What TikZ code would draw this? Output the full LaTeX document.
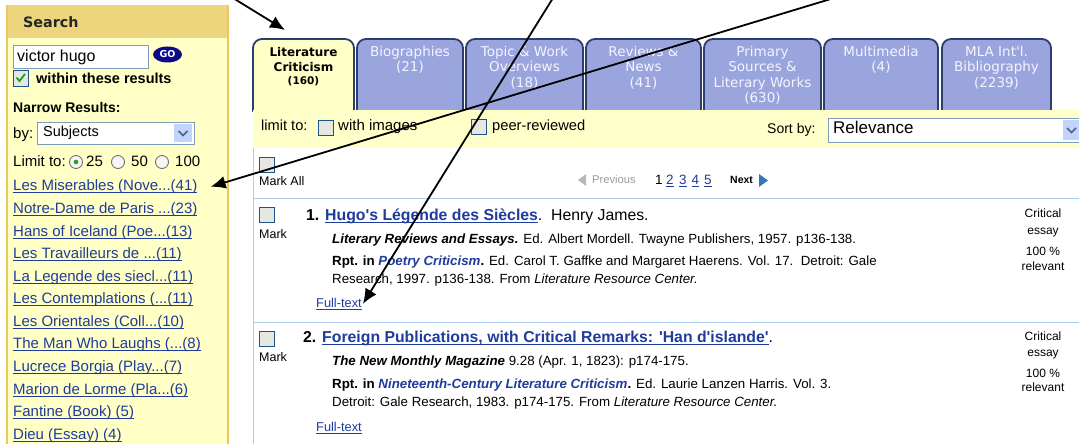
\documentclass[tikz,border=0pt]{standalone}
\usepackage{fontspec}
\setmainfont{Liberation Sans}[Ligatures=TeXOff]
\newfontfamily\vfont{DejaVu Sans}[Ligatures=TeXOff]
\usetikzlibrary{arrows.meta}
\definecolor{sbbody}{HTML}{FFFFC6}
\definecolor{sbhead}{HTML}{ECD57C}
\definecolor{sbedge}{HTML}{E9C95E}
\definecolor{tabfill}{HTML}{9AA5DD}
\definecolor{tabedge}{HTML}{2C3E6E}
\definecolor{tabtext}{HTML}{F4F4FF}
\definecolor{actfill}{HTML}{FFFFC8}
\definecolor{barfill}{HTML}{FFFFCA}
\definecolor{linkc}{HTML}{1E3C9C}
\definecolor{rulec}{HTML}{A9CEF2}
\definecolor{cbedge}{HTML}{1F5584}
\definecolor{cbfill}{HTML}{E6E6E2}
\definecolor{ddedge}{HTML}{7F9DB9}
\definecolor{ddbtn}{HTML}{C3D4FC}
\definecolor{ddarrow}{HTML}{4D6185}
\definecolor{gonavy}{HTML}{0B0B8A}
\definecolor{checkgreen}{HTML}{21A121}
\definecolor{greyc}{HTML}{9A9A9A}
\definecolor{navtri}{HTML}{3A76B5}
\newcommand\sq{'}
\newcommand\mycbox[2]{\draw[cbedge, fill=cbfill, line width=1pt] (#1,#2) rectangle ++(15,15);}
\newcommand\myradio[2]{\draw[gray!80!black, fill=gray!8, line width=0.8pt] (#1,#2) circle[radius=6.5pt];}
\newcommand\mytab[3]{\draw[tabedge, line width=1.8pt, fill=#3, rounded corners=9pt] (#1,112) -- (#1,39) -- (#2,39) -- (#2,112);}
\newcommand\lnk[1]{\textcolor{linkc}{\setbox0\hbox{#1}\rlap{\rule[-1.8pt]{\wd0}{0.9pt}}\box0}}
\begin{document}
\begin{tikzpicture}[x=1pt,y=-1pt,
  txt/.style={anchor=mid west, inner sep=0pt, font=\fontsize{15}{17}\selectfont},
  small/.style={anchor=mid west, inner sep=0pt, font=\fontsize{12.5}{14}\selectfont},
  body/.style={anchor=mid west, inner sep=0pt, font=\fontsize{13.3}{15}\selectfont},
  ttl/.style={anchor=mid west, inner sep=0pt, font=\fontsize{15.8}{18}\selectfont},
  rcol/.style={anchor=mid, inner sep=0pt, font=\fontsize{12}{14}\selectfont},
  tabt/.style={anchor=mid, inner sep=0pt, text=tabtext, font=\vfont\fontsize{13.5}{15}\selectfont},
  arr/.style={-{Latex[length=15pt,width=13pt]}, line width=1.8pt, black}]
\useasboundingbox (0,0) rectangle (1079,444);
\clip (0,0) rectangle (1079,444);
\fill[white] (0,0) rectangle (1079,444);

% ---------------- sidebar ----------------
\fill[sbbody] (7,38) rectangle (228,444);
\fill[sbhead] (7,5) rectangle (228,38);
\draw[sbedge, line width=1.2pt] (7,5) -- (7,444);
\draw[sbedge, line width=2pt] (228,5) -- (228,444);
\node[anchor=mid west, inner sep=0pt, font=\vfont\bfseries\fontsize{14.3}{16}\selectfont, text=black!85] (shead) at (23,25) {Search};

\draw[ddedge, fill=white, line width=1pt] (13,46) rectangle (148,69);
\node[anchor=mid west, inner sep=0pt, font=\fontsize{16}{18}\selectfont] (query) at (17,59) {victor hugo};
\fill[gonavy] (167.5,54.5) ellipse[x radius=14.5pt, y radius=8pt];
\node[inner sep=0pt, font=\vfont\bfseries\fontsize{9.5}{10}\selectfont, text=white] (go) at (167.5,54.5) {GO};

\mycbox{13}{71}
\draw[checkgreen, line width=1.8pt] (16.5,77.5) -- (19.5,81) -- (25,74);
\node[txt, font=\bfseries\fontsize{14.5}{16}\selectfont] (within) at (36,81) {within these results};
\node[txt, font=\bfseries\fontsize{14}{16}\selectfont] (narrow) at (13,110) {Narrow Results:};
\node[txt] (by) at (13,136) {by:};
\draw[ddedge, fill=white, line width=1pt] (37,122) rectangle (194,144);
\node[anchor=mid west, inner sep=0pt, font=\fontsize{14.5}{16}\selectfont] (subj) at (43,134) {Subjects};
\fill[ddbtn] (174,124) rectangle (192,142);
\draw[ddarrow, line width=1.6pt] (178.5,131) -- (183,135.5) -- (187.5,131);

\node[txt] (limitto) at (13,164) {Limit to:};
\myradio{76}{162}
\fill[checkgreen] (76,162) circle[radius=2.3pt];
\node[txt] (r25) at (86,164) {25};
\myradio{118}{162}
\node[txt] (r50) at (131,164) {50};
\myradio{162}{162}
\node[txt] (r100) at (175,164) {100};

\node[txt] (l1) at (13,188) {\lnk{Les Miserables (Nove...(41)}};
\node[txt] (l2) at (13,211) {\lnk{Notre-Dame de Paris ...(23)}};
\node[txt] (l3) at (13,234) {\lnk{Hans of Iceland (Poe...(13)}};
\node[txt] (l4) at (13,256) {\lnk{Les Travailleurs de ...(11)}};
\node[txt] (l5) at (13,279) {\lnk{La Legende des siecl...(11)}};
\node[txt] (l6) at (13,301) {\lnk{Les Contemplations (...(11)}};
\node[txt] (l7) at (13,324) {\lnk{Les Orientales (Coll...(10)}};
\node[txt] (l8) at (13,346) {\lnk{The Man Who Laughs (...(8)}};
\node[txt] (l9) at (13,369) {\lnk{Lucrece Borgia (Play...(7)}};
\node[txt] (l10) at (13,392) {\lnk{Marion de Lorme (Pla...(6)}};
\node[txt] (l11) at (13,414) {\lnk{Fantine (Book) (5)}};
\node[txt] (l12) at (13,437) {\lnk{Dieu (Essay) (4)}};

% ---------------- tabs ----------------
\mytab{253}{354}{actfill}
\mytab{357}{463}{tabfill}
\mytab{466}{583}{tabfill}
\mytab{586}{701}{tabfill}
\mytab{704}{821}{tabfill}
\mytab{824}{938}{tabfill}
\mytab{942}{1051}{tabfill}

\node[anchor=mid, inner sep=0pt, font=\vfont\bfseries\fontsize{12}{14}\selectfont] (t1a) at (303.5,54) {Literature};
\node[anchor=mid, inner sep=0pt, font=\vfont\bfseries\fontsize{12}{14}\selectfont] (t1b) at (303.5,69) {Criticism};
\node[anchor=mid, inner sep=0pt, font=\vfont\bfseries\fontsize{10.5}{12}\selectfont] (t1c) at (303.5,82) {(160)};

\node[tabt] (t2a) at (410,54) {Biographies};
\node[tabt] (t2b) at (410,69) {(21)};
\node[tabt] (t3a) at (524.5,54) {Topic \& Work};
\node[tabt] (t3b) at (524.5,69) {Overviews};
\node[tabt] (t3c) at (524.5,85) {(18)};
\node[tabt] (t4a) at (643.5,54) {Reviews \&};
\node[tabt] (t4b) at (643.5,69) {News};
\node[tabt] (t4c) at (643.5,85) {(41)};
\node[tabt] (t5a) at (762.5,54) {Primary};
\node[tabt] (t5b) at (762.5,69) {Sources \&};
\node[tabt] (t5c) at (762.5,85) {Literary Works};
\node[tabt] (t5d) at (762.5,100) {(630)};
\node[tabt] (t6a) at (881,54) {Multimedia};
\node[tabt] (t6b) at (881,69) {(4)};
\node[tabt] (t7a) at (996.5,54) {MLA Int\sq l.};
\node[tabt] (t7b) at (996.5,69) {Bibliography};
\node[tabt] (t7c) at (996.5,85) {(2239)};

% ---------------- limit bar ----------------
\fill[barfill] (253,110) rectangle (1079,148);
\fill[actfill] (254,100) rectangle (353,112);
\node[txt, font=\fontsize{14.6}{16}\selectfont] (limbar) at (261,128) {limit to:};
\mycbox{318}{120}
\node[txt] (wimg) at (338,128) {with images};
\mycbox{471}{119}
\node[txt, font=\fontsize{14.7}{16}\selectfont] (peer) at (492,128) {peer-reviewed};
\node[txt, font=\fontsize{14}{16}\selectfont] (sortby) at (767,131) {Sort by:};
\draw[ddedge, fill=white, line width=1pt] (828,118) rectangle (1090,142);
\node[anchor=mid west, inner sep=0pt, font=\fontsize{17}{19}\selectfont] (relev) at (833,130.5) {Relevance};
\fill[ddbtn] (1063,120) rectangle (1081,140);
\draw[ddarrow, line width=1.6pt] (1067,128) -- (1071.5,132.5) -- (1076,128);

% ---------------- content ----------------
\draw[rulec, line width=1pt] (253,148) -- (253,444);
\draw[rulec, line width=1pt] (253,198) -- (1079,198);
\draw[rulec, line width=1pt] (253,322) -- (1079,322);

\mycbox{259}{157}
\node[small] (markall) at (259,183) {Mark All};
\fill[greyc!70] (578,180) -- (586,174) -- (586,186) -- cycle;
\node[small, font=\fontsize{11.2}{13}\selectfont, text=greyc] (prev) at (592,181) {Previous};
\node[txt, font=\fontsize{13.5}{15}\selectfont] (p1) at (655,182) {1};
\node[txt, font=\fontsize{13.5}{15}\selectfont] (p2) at (666,182) {\lnk{2}};
\node[txt, font=\fontsize{13.5}{15}\selectfont] (p3) at (679,182) {\lnk{3}};
\node[txt, font=\fontsize{13.5}{15}\selectfont] (p4) at (691.5,182) {\lnk{4}};
\node[txt, font=\fontsize{13.5}{15}\selectfont] (p5) at (704,182) {\lnk{5}};
\node[small, font=\bfseries\fontsize{10.5}{12}\selectfont] (next) at (730,181) {Next};
\fill[navtri] (768,180.5) -- (759,174) -- (759,187) -- cycle;

% result 1
\mycbox{259}{207}
\node[small] (mark1) at (259,236) {Mark};
\node[ttl] (r1t) at (306,218) {\textbf{1. \lnk{Hugo\sq s Légende des Siècles}}.\ \ Henry James.};
\node[body] (r1a) at (332,241) {\textbf{\textit{Literary Reviews and Essays.}} Ed. Albert Mordell. Twayne Publishers, 1957. p136-138.};
\node[body] (r1b) at (332,263) {\textbf{Rpt. in \textcolor{linkc}{\textit{Poetry Criticism}}.} Ed. Carol T. Gaffke and Margaret Haerens. Vol. 17.\ \ Detroit: Gale};
\node[body] (r1c) at (332,281) {Research, 1997. p136-138. From \textit{Literature Resource Center.}};
\node[small, font=\fontsize{12.8}{14}\selectfont] (ft1) at (316,305) {\lnk{Full-text}};
\node[rcol] (c1a) at (1043,215) {Critical};
\node[rcol] (c1b) at (1043,232) {essay};
\node[rcol] (c1c) at (1043,253) {100 \%};
\node[rcol] (c1d) at (1043,268) {relevant};

% result 2
\mycbox{259}{331}
\node[small] (mark2) at (259,359) {Mark};
\node[ttl] (r2t) at (303,340) {\textbf{2. \lnk{Foreign Publications, with Critical Remarks: \sq Han d\sq islande\sq}}.};
\node[body] (r2a) at (332,363) {\textbf{\textit{The New Monthly Magazine}} 9.28 (Apr. 1, 1823): p174-175.};
\node[body] (r2b) at (332,386) {\textbf{Rpt. in \textcolor{linkc}{\textit{Nineteenth-Century Literature Criticism}}.} Ed. Laurie Lanzen Harris. Vol. 3.};
\node[body] (r2c) at (332,404) {Detroit: Gale Research, 1983. p174-175. From \textit{Literature Resource Center.}};
\node[small, font=\fontsize{12.8}{14}\selectfont] (ft2) at (316,429) {\lnk{Full-text}};
\node[rcol] (c2a) at (1043,338) {Critical};
\node[rcol] (c2b) at (1043,354) {essay};
\node[rcol] (c2c) at (1043,375) {100 \%};
\node[rcol] (c2d) at (1043,389) {relevant};

% ---------------- arrows ----------------
\coordinate (s1) at (233,-2);
\coordinate (e1) at (285,30);
\coordinate (s2) at (553,-2);
\coordinate (s3) at (834,-2);
\draw[arr] (s1) -- (e1);
\draw[arr] (s2) -- ([xshift=1pt]ft1.east);
\draw[arr] (s3) -- ([xshift=13pt]l1.east);
\end{tikzpicture}
\end{document}
